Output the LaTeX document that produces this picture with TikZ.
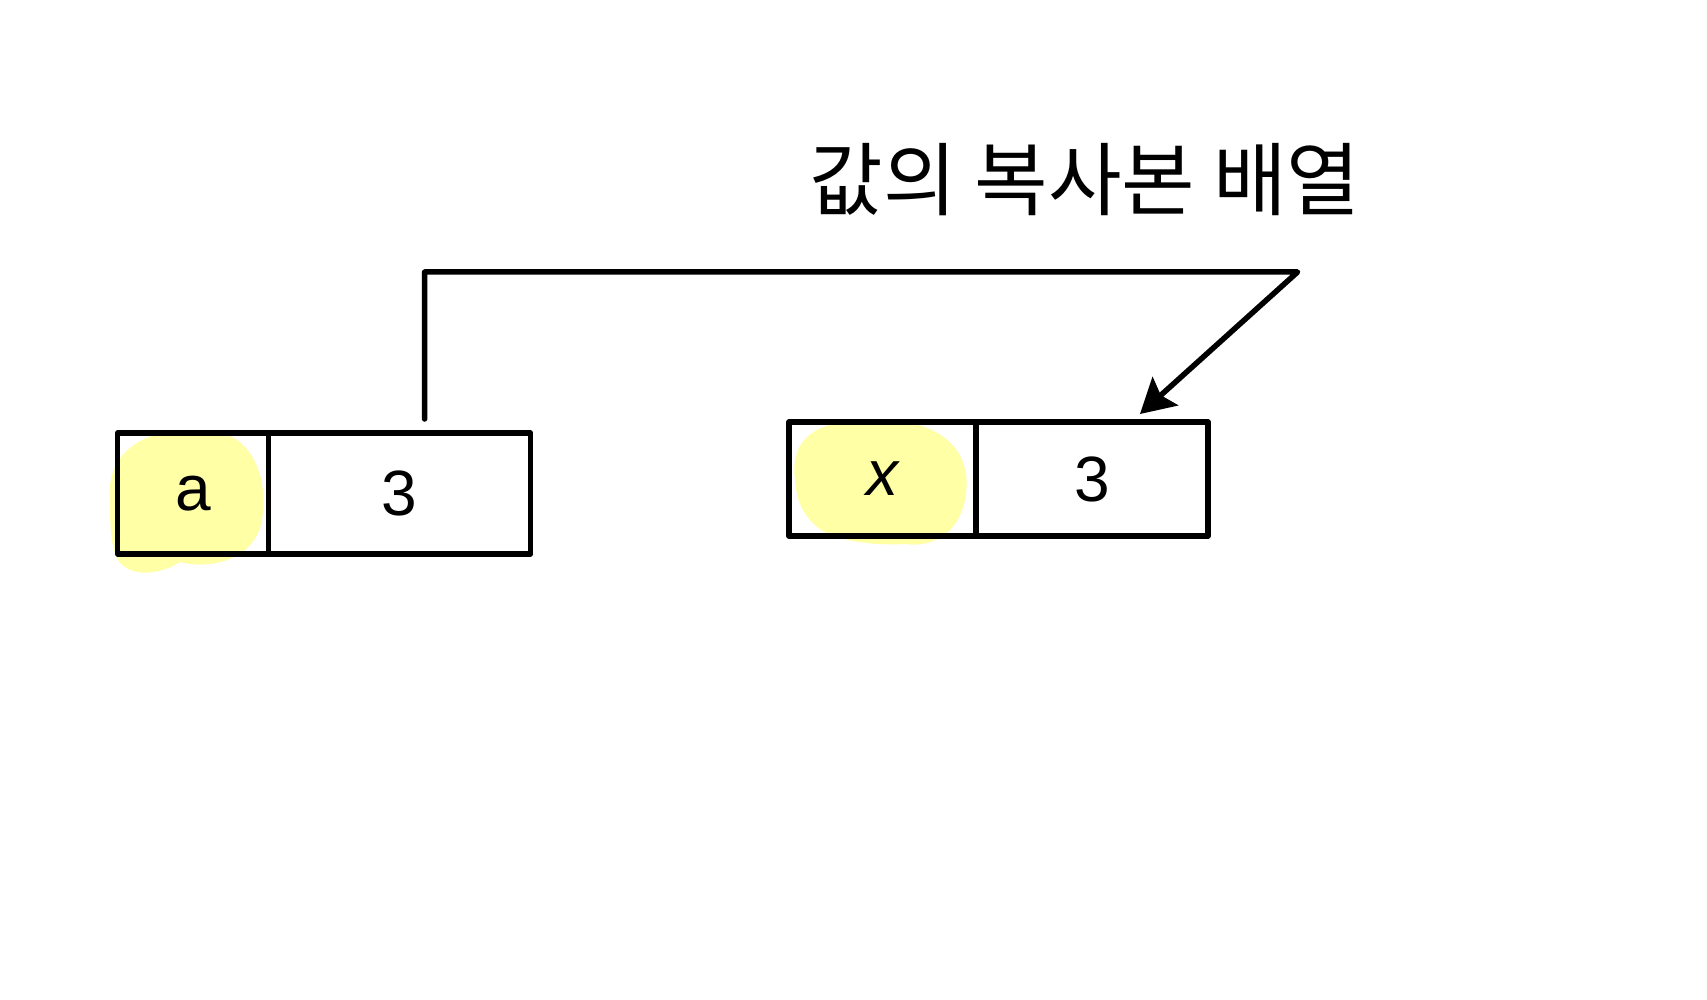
\documentclass[tikz,border=0pt]{standalone}
\usepackage{fontspec}
\setmainfont{Liberation Sans}
\newfontfamily\kor{Noto Sans CJK KR}
\usetikzlibrary{arrows.meta,calc}
\definecolor{hl}{HTML}{FFFFA6}
\tikzset{
  cell/.style={draw, line width=5.5pt, line join=round, line cap=round, inner sep=0pt, outer sep=0pt, anchor=north west},
  hand/.style={font=\fontsize{64}{64}\selectfont},
  conn/.style={line width=5.5pt, line join=round, line cap=round}
}
\begin{document}
\begin{tikzpicture}[x=1pt,y=-1pt]
\useasboundingbox (0,0) rectangle (1707,1000);
\fill[white] (0,0) rectangle (1707,1000);
% highlights
\fill[hl] (110,500) .. controls (105,450) and (150,425) .. (200,432) .. controls (245,425) and (270,470) .. (262,520) .. controls (255,560) and (210,570) .. (180,562) .. controls (160,575) and (130,578) .. (118,560) .. controls (110,545) and (110,520) .. (110,500) -- cycle;
\fill[hl] (795,480) .. controls (788,430) and (830,418) .. (880,420) .. controls (940,420) and (975,450) .. (965,500) .. controls (958,535) and (930,548) .. (905,544) .. controls (870,546) and (830,540) .. (815,525) .. controls (800,512) and (796,495) .. (795,480) -- cycle;
% left array
\node[cell, minimum width=151pt, minimum height=121pt] (l1) at (117.6,433) {};
\node[cell, minimum width=262pt, minimum height=121pt] (l2) at (l1.north east) {};
% right array
\node[cell, minimum width=187pt, minimum height=114pt] (r1) at (789,422) {};
\node[cell, minimum width=232pt, minimum height=114pt] (r2) at (r1.north east) {};
% values
\node[hand] (va) at (l1.center) {a};
\node[hand] (v3a) at (l2.center) {3};
\node[hand] (vx) at (r1.center) {$\mathit{x}$};
\node[hand] (v3b) at (r2.center) {3};
% label
\node[font=\kor\fontsize{80}{80}\selectfont] (lab) at (1085,180) {값의 복사본 배열};
% connector
\coordinate (s) at ($(l2.north west)+(156,-14)$);
\coordinate (c2) at (1297.6,272);
\coordinate (e) at ($(r2.north east)+(-68,-8)$);
\draw[conn, -{Stealth[length=34pt,width=38pt,inset=6pt]}] (s) -- (s |- c2) -- (c2) -- (e);
\end{tikzpicture}
\end{document}
